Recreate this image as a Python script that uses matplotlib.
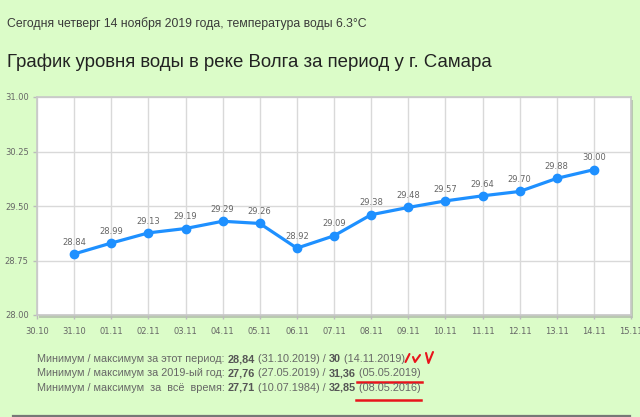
import numpy as np
import matplotlib
matplotlib.use('Agg')
import matplotlib.pyplot as plt
from matplotlib.patches import Rectangle
from matplotlib.lines import Line2D

# данные с графика
dates = ['30.10', '31.10', '01.11', '02.11', '03.11', '04.11', '05.11', '06.11',
         '07.11', '08.11', '09.11', '10.11', '11.11', '12.11', '13.11', '14.11', '15.11']
levels = [28.84, 28.99, 29.13, 29.19, 29.29, 29.26, 28.92, 29.09,
          29.38, 29.48, 29.57, 29.64, 29.70, 29.88, 30.00]
y_ticks = [28.00, 28.75, 29.50, 30.25, 31.00]

header = 'Сегодня четверг 14 ноября 2019 года, температура воды 6.3°С'
title = 'График уровня воды в реке Волга за период у г. Самара'
stats = [
    [('Минимум / максимум за этот период: ', 'normal'), ('28,84', 'bold'),
     (' (31.10.2019) / ', 'normal'), ('30', 'bold'), (' (14.11.2019)', 'normal')],
    [('Минимум / максимум за 2019-ый год: ', 'normal'), ('27,76', 'bold'),
     (' (27.05.2019) / ', 'normal'), ('31,36', 'bold'), (' (05.05.2019)', 'normal')],
    [('Минимум / максимум  за  всё  время: ', 'normal'), ('27,71', 'bold'),
     (' (10.07.1984) / ', 'normal'), ('32,85', 'bold'), (' (08.05.2016)', 'normal')],
]

plt.rcParams['font.family'] = ['Liberation Sans', 'DejaVu Sans']

bg = '#dbfcc8'
fig = plt.figure(figsize=(6.4, 4.17), dpi=100, facecolor=bg)

W, H = 640, 417
def fx(px):
    return px / W
def fy(py):
    return 1 - py / H

x0, x1, yt, yb = 37, 631, 97, 315
ax = fig.add_axes([fx(x0), fy(yb), fx(x1) - fx(x0), fy(yt) - fy(yb)])
ax.set_facecolor('white')
ax.set_zorder(2)

# тень под областью графика
shadow = Rectangle((fx(x0) + 2 / W, fy(yb) - 3 / H), fx(x1) - fx(x0), fy(yt) - fy(yb),
                   transform=fig.transFigure, facecolor='#b9c9b0', edgecolor='none', zorder=1)
fig.add_artist(shadow)

xs = np.arange(1, len(levels) + 1)
ax.plot(xs, levels, color='#1e90ff', lw=2.3, marker='o', ms=6, zorder=3, clip_on=False)
for x, v in zip(xs, levels):
    ax.annotate(f'{v:.2f}', (x, v), xytext=(0, 8.5), textcoords='offset points',
                ha='center', va='center', fontsize=6, color='#666666', family='DejaVu Sans')

ax.set_xlim(0, len(dates) - 1)
ax.set_ylim(y_ticks[0], y_ticks[-1])
ax.set_xticks(np.arange(len(dates)))
ax.set_xticklabels(dates)
ax.set_yticks(y_ticks)
ax.set_yticklabels([f'{t:.2f}' for t in y_ticks])
ax.tick_params(labelsize=6, length=3, width=1)
for lbl in ax.get_xticklabels() + ax.get_yticklabels():
    lbl.set_family('DejaVu Sans')
ax.tick_params(axis='x', colors='#bbbbbb', labelcolor='#666666', pad=6)
ax.tick_params(axis='y', colors='#bbbbbb', labelcolor='#666666', pad=3)
ax.grid(True, color='#d9d9d9', lw=1)
ax.set_axisbelow(True)
for s in ax.spines.values():
    s.set_color('#c8c8c8')
    s.set_linewidth(1.2)

# заголовки
fig.text(fx(7), fy(24), header, fontsize=8.85, color='#3a3a3a', va='center')
fig.text(fx(7), fy(62), title, fontsize=13.4, color='#222222', va='center')

# строки статистики
rows_y = [362, 376, 391]
for parts, py in zip(stats, rows_y):
    prev = fig.text(fx(37), fy(py), parts[0][0], fontsize=7.85, color='#666666',
                    fontweight=parts[0][1], va='baseline')
    for txt, w in parts[1:]:
        prev = ax.annotate(
            txt, xy=(1, 0), xycoords=prev, xytext=(0, 0), textcoords='offset points',
            fontsize=7.85, color='#555555' if w == 'bold' else '#666666',
            fontweight=w, va='bottom', ha='left', annotation_clip=False)

# красные пометки
red = '#e8141c'
def fline(xa, ya, **kw):
    fig.add_artist(Line2D([fx(p) for p in xa], [fy(p) for p in ya],
                          transform=fig.transFigure, **kw))
fline([357, 422], [382, 382], color=red, lw=1.8)
fline([356, 421], [400, 400], color=red, lw=1.8)
fline([405.5, 409.5], [362, 354], color=red, lw=1.5, solid_capstyle='round')
fline([413, 415, 420], [357, 362, 355], color=red, lw=1.5, solid_capstyle='round')
fline([426, 428.5, 433], [353, 363, 352], color=red, lw=1.5, solid_capstyle='round')

# нижняя линия
fline([13, 630], [416, 416], color='#777777', lw=1.6)

fig.savefig('out.png', dpi=100, facecolor=bg)
